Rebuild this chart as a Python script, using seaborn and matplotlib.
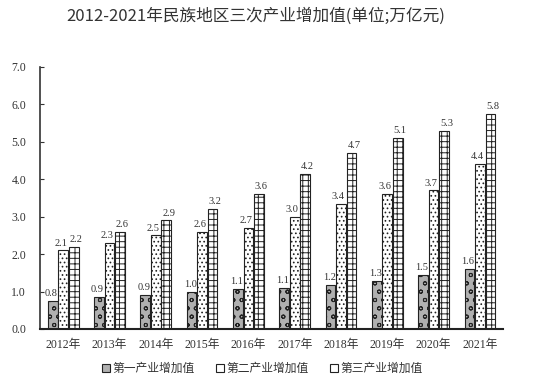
import matplotlib
matplotlib.use("Agg")
import matplotlib.pyplot as plt
import seaborn as sns
import pandas as pd

years = ["2012年", "2013年", "2014年", "2015年", "2016年",
         "2017年", "2018年", "2019年", "2020年", "2021年"]
series_names = ["第一产业增加值", "第二产业增加值", "第三产业增加值"]
primary = [0.76, 0.85, 0.91, 0.98, 1.06, 1.10, 1.17, 1.28, 1.45, 1.60]
secondary = [2.10, 2.30, 2.50, 2.60, 2.70, 3.00, 3.35, 3.60, 3.70, 4.40]
tertiary = [2.20, 2.60, 2.90, 3.20, 3.60, 4.15, 4.70, 5.10, 5.30, 5.75]
label_vals = [
    [0.8, 0.9, 0.9, 1.0, 1.1, 1.1, 1.2, 1.3, 1.5, 1.6],
    [2.1, 2.3, 2.5, 2.6, 2.7, 3.0, 3.4, 3.6, 3.7, 4.4],
    [2.2, 2.6, 2.9, 3.2, 3.6, 4.2, 4.7, 5.1, 5.3, 5.8],
]
y_ticks = [0.0, 1.0, 2.0, 3.0, 4.0, 5.0, 6.0, 7.0]

df = pd.DataFrame({
    "year": years * 3,
    "series": [s for s in series_names for _ in years],
    "value": primary + secondary + tertiary,
})

sns.set_style("white")
serif_cjk = ["Liberation Serif", "Noto Sans CJK SC"]
sans_cjk = ["Noto Sans CJK SC", "DejaVu Sans"]
plt.rcParams["font.family"] = serif_cjk
plt.rcParams["hatch.linewidth"] = 0.7

fig = plt.figure(figsize=(5.34, 3.87), dpi=100)
ax = fig.add_axes([0.075, 0.15, 0.867, 0.677])

sns.barplot(data=df, x="year", y="value", hue="series", order=years,
            hue_order=series_names, palette=["#b0b0b0", "white", "white"],
            width=0.68, gap=0.08, edgecolor="#222222", linewidth=0.8,
            saturation=1, ax=ax)

hatches = ["oo", "....", "+++"]
label_shift = [-1.0, -1.8, 1.8]
for cont, h, labs, dx in zip(ax.containers, hatches, label_vals, label_shift):
    for p in cont:
        p.set_hatch(h)
    texts = ax.bar_label(cont, labels=[f"{v:.1f}" for v in labs], padding=2,
                         fontsize=7.5, color="#333333")
    for t in texts:
        t.xyann = (dx, 2)

ax.set_ylim(0, 7)
ax.set_yticks(y_ticks)
ax.set_yticklabels([f"{v:.1f}" for v in y_ticks], fontsize=8.5, color="#333333")
ax.tick_params(axis="x", labelsize=8.5, colors="#333333", length=0, pad=7)
ax.tick_params(axis="y", length=3, direction="in", left=True, colors="#333333",
               pad=10)
ax.set_xlabel("")
ax.set_ylabel("")
ax.set_xlim(-0.5, len(years) - 0.5)
for side in ["top", "right"]:
    ax.spines[side].set_visible(False)
ax.spines["left"].set_color("#333333")
ax.spines["left"].set_linewidth(1.2)
ax.spines["bottom"].set_color("#222222")
ax.spines["bottom"].set_linewidth(1.5)

leg = ax.legend(loc="upper center", bbox_to_anchor=(0.48, -0.085), ncol=3,
                frameon=False, handlelength=0.7, handleheight=0.7,
                handletextpad=0.2, columnspacing=1.8,
                prop={"family": sans_cjk, "size": 8.5})
for t in leg.get_texts():
    t.set_color("#333333")

fig.text(0.478, 0.958, "2012-2021年民族地区三次产业增加值(单位;万亿元)",
         ha="center", va="center", fontsize=12, color="#333333",
         family=sans_cjk)

fig.savefig("out.png", dpi=100)
